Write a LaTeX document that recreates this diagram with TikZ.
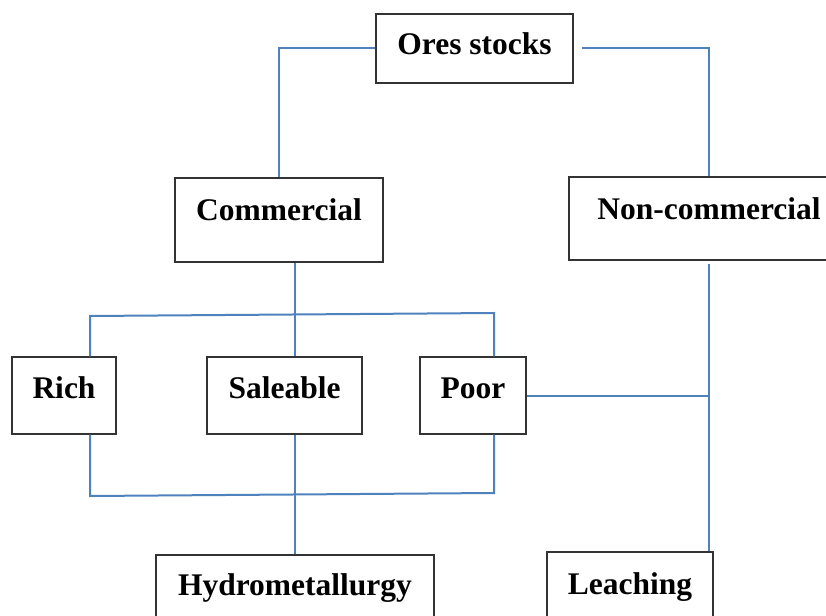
\documentclass[tikz,border=0pt]{standalone}
\usepackage{fontspec}
\setmainfont{Liberation Serif}
\definecolor{linkblue}{RGB}{79,129,189}
\begin{document}
\begin{tikzpicture}[x=1pt,y=-1pt,
  box/.style={draw=black!80,line width=1.2pt,anchor=base,inner xsep=0pt,inner ysep=0pt,
    font=\fontsize{31.5}{36}\selectfont\bfseries},
  link/.style={draw=linkblue,line width=2pt}]
  \useasboundingbox (0,0) rectangle (826,615);
  \clip (0,0) rectangle (826,615);

  \node[box,minimum width=197pt,text height=41pt,text depth=28pt] (O) at (474.5,55) {Ores stocks};
  \node[box,minimum width=208pt,text height=42pt,text depth=42pt] (C) at (279,220) {Commercial};
  \node[box,minimum width=280pt,text height=42pt,text depth=41pt] (N) at (709,219) {Non-commercial};
  \node[box,minimum width=104pt,text height=41pt,text depth=36pt] (R) at (64,398) {Rich};
  \node[box,minimum width=155pt,text height=41pt,text depth=36pt] (S) at (284.5,398) {Saleable};
  \node[box,minimum width=106pt,text height=41pt,text depth=36pt] (P) at (473,398) {Poor};
  \node[box,minimum width=278pt,text height=40pt,text depth=30pt] (H) at (295,595) {Hydrometallurgy};
  \node[box,minimum width=166pt,text height=42pt,text depth=40pt] (L) at (630,594) {Leaching};

  \coordinate (a) at (90,316);
  \coordinate (b) at (494,313);
  \coordinate (c) at (90,496);
  \coordinate (d) at (494,493);

  \draw[link] (O.west) -| (C.north);
  \draw[link] ([xshift=8pt]O.east) -| (N.north);
  \draw[link] (H.north |- C.south) -- (H.north |- S.north);
  \draw[link] (R.north -| a) -- (a) -- (b) -- (P.north -| b);
  \draw[link] (R.south -| c) -- (c) -- (d) -- (P.south -| d);
  \draw[link] (H.north |- S.south) -- (H.north);
  \draw[link] (P.east) -- (P.east -| N.south);
  \draw[link] ([yshift=-3pt]N.south) -- (N.south |- L.north);
\end{tikzpicture}
\end{document}
